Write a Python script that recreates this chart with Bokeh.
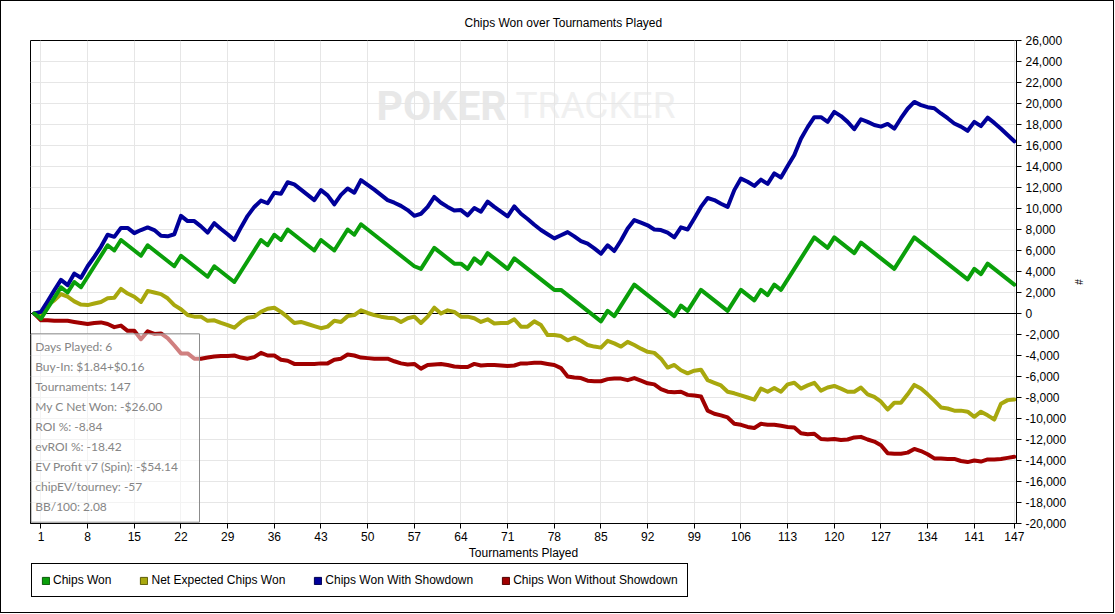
import numpy as np
from bokeh.plotting import figure
from bokeh.layouts import column
from bokeh.models import (Range1d, FixedTicker, NumeralTickFormatter, Span, BoxAnnotation,
                          Label, Legend, LegendItem, ColumnDataSource)
from bokeh.embed import file_html
from bokeh.resources import INLINE

# ---------------- data ----------------
tournaments = list(range(0, 148))

chips_won = [
    0, -500, 500, 1500, 2500, 2000, 3000, 2500, 3500, 4500,
    5500, 6500, 6000, 7000, 6500, 6000, 5500, 6500, 6000, 5500,
    5000, 4500, 5500, 5000, 4500, 4000, 3500, 4500, 4000, 3500,
    3000, 4000, 5000, 6000, 7000, 6500, 7500, 7000, 8000, 7500,
    7000, 6500, 6000, 7000, 6500, 6000, 7000, 8000, 7500, 8500,
    8000, 7500, 7000, 6500, 6000, 5500, 5000, 4500, 4250, 5250,
    6250, 5750, 5250, 4750, 4750, 4250, 5250, 4750, 5750, 5250,
    4750, 4250, 5250, 4750, 4250, 3750, 3250, 2750, 2250, 2250,
    1750, 1250, 750, 250, -250, -750, 250, -250, 750, 1750,
    2750, 2250, 1750, 1250, 750, 250, -250, 750, 250, 1250,
    2250, 1750, 1250, 750, 250, 1250, 2250, 1750, 1250, 2250,
    1750, 2750, 2250, 3250, 4250, 5250, 6250, 7250, 6750, 6250,
    7250, 6750, 6250, 5750, 6750, 6250, 5750, 5250, 4750, 4250,
    5250, 6250, 7250, 6750, 6250, 5750, 5250, 4750, 4250, 3750,
    3250, 4250, 3750, 4750, 4250, 3750, 3250, 2750,
]

net_expected = [
    0, -150, 800, 1250, 1850, 1600, 1150, 850, 800, 950,
    1100, 1450, 1500, 2350, 1900, 1600, 1100, 2150, 2000, 1850,
    1450, 800, 400, -150, -300, -300, -700, -650, -900, -1100,
    -1350, -800, -400, -300, 150, 450, 550, 150, -350, -900,
    -800, -1000, -1200, -1400, -1250, -700, -800, -250, -150, 300,
    50, -150, -300, -400, -450, -800, -450, -300, -900, -300,
    550, 0, 300, 150, -300, -300, -450, -800, -550, -950,
    -900, -900, -550, -1250, -1250, -750, -1100, -2050, -2050, -2150,
    -2550, -2300, -2600, -3000, -3150, -3250, -2600, -2850, -3150, -2700,
    -3000, -3350, -3650, -3750, -4300, -5150, -4900, -5400, -5700, -5450,
    -5350, -6350, -6600, -6850, -7450, -7600, -7800, -8000, -8200, -7150,
    -7450, -7100, -7450, -6750, -6600, -7150, -6850, -6600, -7350, -7050,
    -6900, -7150, -7450, -7450, -7050, -7700, -7950, -8400, -9150, -8500,
    -8500, -7700, -6800, -7150, -7700, -8300, -8950, -9050, -9250, -9250,
    -9350, -9850, -9350, -9700, -10100, -8600, -8250, -8200,
]

with_showdown = [
    0, 150, 1150, 2200, 3200, 2700, 3800, 3400, 4500, 5400,
    6350, 7500, 7300, 8150, 8150, 7650, 7950, 8200, 7950, 7400,
    7350, 7550, 9300, 8800, 8800, 8300, 7700, 8600, 8050, 7550,
    7000, 8200, 9300, 10150, 10750, 10500, 11500, 11400, 12500, 12300,
    11800, 11300, 10800, 11750, 11250, 10400, 11300, 11900, 11500, 12700,
    12250, 11800, 11300, 10800, 10550, 10250, 9850, 9300, 9500, 10150,
    11100, 10550, 10150, 9800, 9850, 9350, 10050, 9700, 10650, 10150,
    9700, 9250, 10200, 9500, 9000, 8450, 7950, 7550, 7150, 7450,
    7750, 7350, 6900, 6650, 6200, 5700, 6500, 5950, 6950, 8100,
    8900, 8650, 8400, 8000, 7950, 7700, 7250, 8200, 8000, 9050,
    10150, 11000, 10800, 10450, 10150, 11750, 12850, 12550, 12150, 12750,
    12350, 13350, 12950, 14050, 15100, 16650, 17750, 18700, 18700, 18250,
    19200, 18800, 18250, 17550, 18500, 18250, 17950, 17800, 18050, 17600,
    18600, 19500, 20150, 19850, 19650, 19550, 19050, 18600, 18100, 17800,
    17400, 18250, 17850, 18650, 18150, 17600, 17000, 16400,
]

without_showdown = [
    0, -650, -650, -700, -700, -700, -800, -900, -1000, -900,
    -850, -1000, -1300, -1150, -1650, -1650, -2450, -1700, -1950, -1900,
    -2350, -3050, -3800, -3800, -4300, -4300, -4200, -4100, -4050, -4050,
    -4000, -4200, -4300, -4150, -3750, -4000, -4000, -4400, -4500, -4800,
    -4800, -4800, -4800, -4750, -4750, -4400, -4300, -3900, -4000, -4200,
    -4250, -4300, -4300, -4300, -4550, -4750, -4850, -4800, -5250, -4900,
    -4850, -4800, -4900, -5050, -5100, -5100, -4800, -4950, -4900, -4900,
    -4950, -5000, -4950, -4750, -4750, -4700, -4700, -4800, -4900, -5200,
    -6000, -6100, -6150, -6400, -6450, -6450, -6250, -6200, -6200, -6350,
    -6150, -6400, -6650, -6750, -7200, -7450, -7500, -7450, -7750, -7800,
    -7900, -9250, -9550, -9700, -9900, -10500, -10600, -10800, -10900, -10500,
    -10600, -10600, -10700, -10800, -10850, -11400, -11500, -11450, -11950, -12000,
    -11950, -12050, -12000, -11800, -11750, -12000, -12200, -12550, -13300, -13350,
    -13350, -13250, -12900, -13100, -13400, -13800, -13800, -13850, -13850, -14050,
    -14150, -14000, -14100, -13900, -13900, -13850, -13750, -13650,
]

x_ticks = [1, 8, 15, 22, 29, 36, 43, 50, 57, 64, 71, 78, 85, 92, 99,
           106, 113, 120, 127, 134, 141, 147]
y_ticks = list(range(-20000, 26001, 2000))

series_names = ["Chips Won", "Net Expected Chips Won",
                "Chips Won With Showdown", "Chips Won Without Showdown"]
series_colors = ["#0a9f0a", "#a8a80e", "#00009a", "#a00000"]
swatch_edges = ["#0a5a0a", "#5c5c08", "#000050", "#500000"]

info_lines = [
    "Days Played: 6",
    "Buy-In: $1.84+$0.16",
    "Tournaments: 147",
    "My C Net Won: -$26.00",
    "ROI %: -8.84",
    "evROI %: -18.42",
    "EV Profit v7 (Spin): -$54.14",
    "chipEV/tourney: -57",
    "BB/100: 2.08",
]

title_text = "Chips Won over Tournaments Played"

# ---------------- geometry (page pixels) ----------------
W = 1114
H_MAIN = 563          # main chart figure (title, frame, x axis)
H_LEG = 50            # legend strip below it
X0, X1 = -0.57, 147.33
Y0, Y1 = -20000, 26000
FL, FR, FT, FB = 30, 1016, 40, 523   # frame edges in page pixels


def dx(px):
    return X0 + (px - FL) / (FR - FL) * (X1 - X0)


def dy(py):
    return Y1 - (py - FT) / (FB - FT) * (Y1 - Y0)


p = figure(width=W, height=H_MAIN,
           x_range=Range1d(X0, X1), y_range=Range1d(Y0, Y1),
           output_backend="svg", toolbar_location=None,
           y_axis_location="right",
           min_border_left=FL, min_border_right=W - FR,
           min_border_top=FT, min_border_bottom=H_MAIN - FB)

# page background shows through the (transparent) border area, carrying the outer frame line
p.background_fill_color = "white"
p.border_fill_alpha = 0
p.styles = {"background-color": "white",
            "box-shadow": "inset 1px 1px 0 0 #000000, inset -1px 0 0 0 #000000"}
p.outline_line_color = "black"
p.outline_line_width = 1
p.outline_line_alpha = 1

# title
p.title.text = title_text
p.title.align = "left"
p.title.offset = 434
p.title.standoff = 21
p.title.text_font = "Liberation Sans"
p.title.text_font_size = "12px"
p.title.text_font_style = "normal"
p.title.text_color = "black"

# grid
p.xgrid.ticker = FixedTicker(ticks=x_ticks)
p.ygrid.ticker = FixedTicker(ticks=y_ticks)
for g in (p.xgrid[0], p.ygrid[0]):
    g.grid_line_color = "#e6e6e6"
    g.grid_line_width = 1

# x axis
xa = p.xaxis[0]
xa.ticker = FixedTicker(ticks=x_ticks)
xa.axis_line_color = "black"
xa.major_tick_line_color = "black"
xa.major_tick_out = 5
xa.major_tick_in = 0
xa.minor_tick_line_color = None
xa.major_label_text_font = "Liberation Sans"
xa.major_label_text_font_size = "12px"
xa.major_label_text_color = "black"
xa.major_label_standoff = 3
xa.axis_label = "Tournaments Played"
xa.axis_label_text_font = "Liberation Sans"
xa.axis_label_text_font_size = "12px"
xa.axis_label_text_font_style = "normal"
xa.axis_label_text_color = "black"
xa.axis_label_standoff = 2

# y axis (right)
ya = p.yaxis[0]
ya.ticker = FixedTicker(ticks=y_ticks)
ya.formatter = NumeralTickFormatter(format="0,0")
ya.axis_line_color = "black"
ya.major_tick_line_color = "black"
ya.major_tick_out = 5
ya.major_tick_in = 0
ya.minor_tick_line_color = None
ya.major_label_text_font = "Liberation Sans"
ya.major_label_text_font_size = "12px"
ya.major_label_text_color = "black"
ya.major_label_standoff = 4
ya.axis_label = "#"
ya.axis_label_text_font = "Liberation Sans"
ya.axis_label_text_font_size = "10px"
ya.axis_label_text_font_style = "normal"
ya.axis_label_text_color = "black"
ya.axis_label_standoff = 4

# watermark (drawn beneath everything)
p.add_layout(Label(x=dx(376), y=dy(105), text="POKER", text_font="Roboto",
                   text_font_style="bold", text_font_size="41px", text_color="#e8e8e8",
                   text_baseline="alphabetic", text_align="left", level="image"))
p.add_layout(Label(x=dx(515), y=dy(105), text="TRACKER", text_font="Roboto",
                   text_font_style="normal", text_font_size="37px", text_color="#f0f0f0",
                   text_baseline="alphabetic", text_align="left", level="image"))

# zero line
p.add_layout(Span(location=0, dimension="width", line_color="black", line_width=1,
                  level="underlay"))

# series lines
src = ColumnDataSource(dict(t=tournaments, cw=chips_won, ne=net_expected,
                            ws=with_showdown, wo=without_showdown))
draw_order = [("wo", 3), ("ne", 1), ("ws", 2), ("cw", 0)]
for col, i in draw_order:
    p.line("t", col, source=src, line_color=series_colors[i], line_width=4,
           line_join="round", line_cap="round")

# info box (semi-transparent, above lines)
p.add_layout(BoxAnnotation(left=dx(30.5), right=dx(199), top=dy(333.3), bottom=dy(521.7),
                           fill_color="white", fill_alpha=0.5,
                           line_color="#8c8c8c", line_width=1, line_alpha=1,
                           level="overlay"))
for k, line in enumerate(info_lines):
    p.add_layout(Label(x=dx(34.7), y=dy(345.7 + 20 * k), text=line,
                       text_font="Lato", text_font_size="12px", text_color="#858585",
                       text_baseline="middle", text_align="left", level="overlay"))

# ---------------- legend strip (separate figure below the chart) ----------------
q = figure(width=W, height=H_LEG, x_range=Range1d(0, 1), y_range=Range1d(0, 1),
           output_backend="svg", toolbar_location=None,
           x_axis_location=None, y_axis_location=None,
           min_border_left=0, min_border_right=0, min_border_top=0, min_border_bottom=0)
q.outline_line_color = None
q.outline_line_alpha = 0
q.background_fill_alpha = 0
q.border_fill_alpha = 0
q.styles = {"background-color": "white",
            "box-shadow": "inset 1px -1px 0 0 #000000, inset -1px 0 0 0 #000000"}
for g in q.grid:
    g.visible = False

items = []
for i, name in enumerate(series_names):
    sw = q.quad(left=np.array([np.nan]), right=np.array([np.nan]),
                top=np.array([np.nan]), bottom=np.array([np.nan]),
                fill_color=series_colors[i], line_color=swatch_edges[i], line_width=1)
    items.append(LegendItem(label=name, renderers=[sw]))

# q's frame is aligned with the chart frame (left edge at page x = 30)
legend = Legend(items=items, orientation="horizontal", location=(1, 16),
                glyph_width=9, glyph_height=9, label_height=13,
                label_standoff=3, spacing=28, padding=9, margin=0,
                label_text_font="Liberation Sans", label_text_font_size="12px",
                label_text_color="black",
                border_line_color="black", border_line_width=1, border_line_alpha=1,
                background_fill_color="white", background_fill_alpha=1)
q.add_layout(legend, "center")

page = column(p, q, spacing=0, sizing_mode="fixed", width=W, height=H_MAIN + H_LEG)

open("out.html", "w").write(file_html(page, INLINE))
